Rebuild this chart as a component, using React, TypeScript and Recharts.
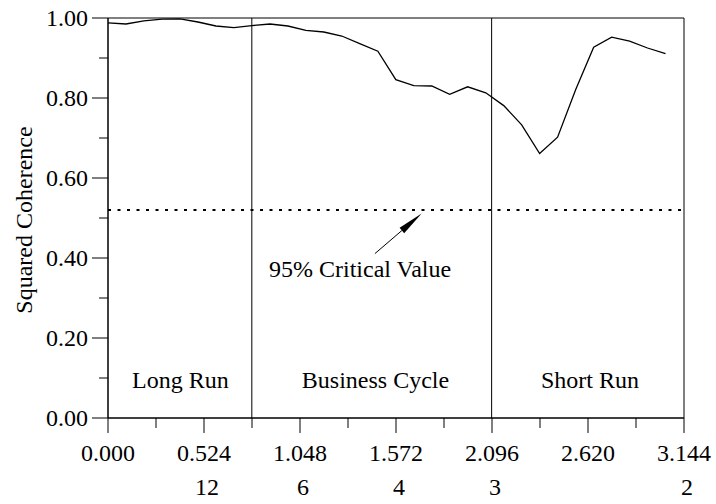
import { LineChart, Line, XAxis, YAxis, ReferenceLine, ReferenceArea, ReferenceDot } from 'recharts';

// frequency (radians) and squared coherence
const freqs = [
  0, 0.098, 0.196, 0.295, 0.393, 0.491, 0.589, 0.687, 0.785, 0.884, 0.982, 1.08, 1.178, 1.276, 1.374, 1.473,
  1.571, 1.669, 1.767, 1.865, 1.963, 2.062, 2.16, 2.258, 2.356, 2.454, 2.553, 2.651, 2.749, 2.847, 2.945, 3.043,
];
const coherence = [
  0.988, 0.985, 0.993, 0.997, 0.998, 0.99, 0.98, 0.976, 0.981, 0.985, 0.98, 0.969, 0.965, 0.955, 0.936, 0.917,
  0.846, 0.831, 0.83, 0.809, 0.828, 0.813, 0.781, 0.733, 0.661, 0.702, 0.821, 0.927, 0.952, 0.942, 0.925, 0.911,
];

const xTicks = [0, 0.262, 0.524, 0.786, 1.048, 1.31, 1.572, 1.834, 2.096, 2.358, 2.62, 2.882, 3.144];
const xTickLabels = ['0.000', '', '0.524', '', '1.048', '', '1.572', '', '2.096', '', '2.620', '', '3.144'];
const periodLabels = ['', '', '12', '', '6', '', '4', '', '3', '', '', '', '2'];

const yTicks = [0, 0.1, 0.2, 0.3, 0.4, 0.5, 0.6, 0.7, 0.8, 0.9, 1.0];
const yTickLabels = ['0.00', '', '0.20', '', '0.40', '', '0.60', '', '0.80', '', '1.00'];

const criticalValue = 0.52;
const regionBounds = [0.785, 2.094];

const data = freqs.map((f, i) => ({ freq: f, coh: coherence[i] }));

const txt = { fontFamily: 'Liberation Serif, Tinos, DejaVu Serif, serif', fontSize: 24, fill: '#000' };

const XTick = (props: any) => {
  const { x, y, index } = props;
  const major = index % 2 === 0;
  return (
    <g>
      <line x1={x} y1={y} x2={x} y2={y + (major ? 15 : 10)} stroke="#000" />
      {xTickLabels[index] && (
        <text x={x} y={y + 43} textAnchor="middle" style={txt}>
          {xTickLabels[index]}
        </text>
      )}
      {periodLabels[index] && (
        <text x={x + 3} y={y + 77} textAnchor="middle" style={txt}>
          {periodLabels[index]}
        </text>
      )}
    </g>
  );
};

const YTick = (props: any) => {
  const { x, y, index } = props;
  const major = index % 2 === 0;
  return (
    <g>
      <line x1={x - (major ? 16 : 9)} y1={y} x2={x} y2={y} stroke="#000" />
      {yTickLabels[index] && (
        <text x={x - 20} y={y + 7.5} textAnchor="end" style={txt}>
          {yTickLabels[index]}
        </text>
      )}
    </g>
  );
};

const Arrow = (props: any) => {
  const { x1, y1, x2, y2 } = props;
  const dx = x2 - x1;
  const dy = y2 - y1;
  const len = Math.sqrt(dx * dx + dy * dy);
  const ux = dx / len;
  const uy = dy / len;
  const hl = 26;
  const hw = 3.5;
  const bx = x2 - ux * hl;
  const by = y2 - uy * hl;
  return (
    <g>
      <line x1={x1} y1={y1} x2={bx} y2={by} stroke="#000" strokeWidth={1} />
      <polygon
        points={`${x2},${y2} ${bx - uy * hw},${by + ux * hw} ${bx + uy * hw},${by - ux * hw}`}
        fill="#000"
      />
    </g>
  );
};

const textLabel = (value: string) => (p: any) => {
  const vb = p.viewBox || {};
  return (
    <text x={vb.x} y={vb.y} textAnchor="middle" style={txt}>
      {value}
    </text>
  );
};

const YLabel = () => (
  <text x={32} y={220} transform="rotate(-90, 32, 220)" textAnchor="middle" style={txt}>
    Squared Coherence
  </text>
);

export default function App() {
  return (
    <div style={{ position: 'absolute', left: 0, top: 0, background: '#fff' }}>
      <LineChart width={716} height={504} data={data} margin={{ top: 18, right: 32, left: 0, bottom: 0 }}>
        <XAxis
          type="number"
          dataKey="freq"
          domain={[0, 3.144]}
          ticks={xTicks}
          interval={0}
          height={86}
          tickSize={0}
          tickMargin={0}
          tickLine={false}
          axisLine={{ stroke: '#000' }}
          tick={<XTick />}
          allowDataOverflow
        />
        <YAxis
          type="number"
          domain={[0, 1]}
          ticks={yTicks}
          interval={0}
          width={108}
          tickSize={0}
          tickMargin={0}
          tickLine={false}
          axisLine={{ stroke: '#000' }}
          tick={<YTick />}
          label={<YLabel />}
        />
        <ReferenceArea x1={0} x2={3.144} y1={0} y2={1} fill="none" stroke="#000" strokeWidth={1} />
        {regionBounds.map((b) => (
          <ReferenceLine key={b} x={b} stroke="#000" strokeWidth={1} />
        ))}
        <ReferenceLine y={criticalValue} stroke="#000" strokeWidth={2} strokeDasharray="3 6.5" />
        <ReferenceLine
          segment={[
            { x: 1.457, y: 0.411 },
            { x: 1.712, y: 0.511 },
          ]}
          shape={<Arrow />}
        />
        <ReferenceDot x={1.376} y={0.353} r={0} fill="none" stroke="none" label={textLabel('95% Critical Value')} />
        <ReferenceDot x={0.395} y={0.076} r={0} fill="none" stroke="none" label={textLabel('Long Run')} />
        <ReferenceDot x={1.46} y={0.076} r={0} fill="none" stroke="none" label={textLabel('Business Cycle')} />
        <ReferenceDot x={2.631} y={0.076} r={0} fill="none" stroke="none" label={textLabel('Short Run')} />
        <Line type="linear" dataKey="coh" stroke="#000" strokeWidth={1.3} dot={false} isAnimationActive={false} />
      </LineChart>
    </div>
  );
}
